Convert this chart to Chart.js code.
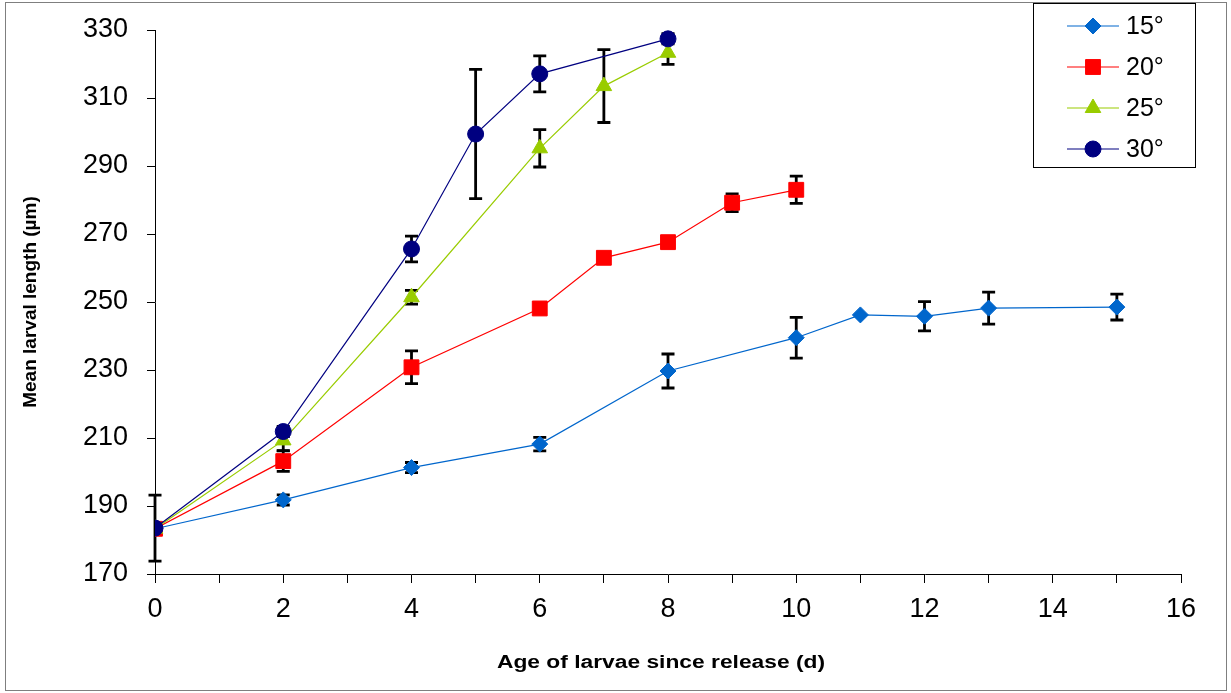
<!DOCTYPE html>
<html><head><meta charset="utf-8">
<script src="https://cdn.jsdelivr.net/npm/chart.js@4/dist/chart.umd.min.js"></script>
<style>
html,body{margin:0;padding:0;background:#fff;}
#wrap{position:relative;width:1231px;height:693px;}
#frame{position:absolute;left:5px;top:2px;width:1222px;height:689px;border:1px solid #7f7f7f;box-sizing:border-box;pointer-events:none;}
canvas{position:absolute;left:0;top:0;}
</style></head><body>
<div id="wrap"><canvas id="c" width="1231" height="693"></canvas><div id="frame"></div></div>
<script>
// ---- data ----
const days15 = [0, 2, 4, 6, 8, 10, 11, 12, 13, 15];
const len15  = [183.3, 191.8, 201.3, 208.2, 229.7, 239.5, 246.2, 245.8, 248.2, 248.5];
const err15  = [null, 1.5, 1.5, 2, 5, 6, null, 4.3, 4.7, 3.8];

const days20 = [0, 2, 4, 6, 7, 8, 9, 10];
const len20  = [183.3, 203.2, 230.8, 248.1, 263.0, 267.6, 279.2, 283.0];
const err20  = [null, 3, 4.8, 1.5, 1.5, 1.5, 2.6, 4];

const days25 = [0, 2, 4, 6, 7, 8];
const len25  = [183.3, 209.3, 251.4, 295.2, 313.5, 323.3];
const err25  = [null, 3, 2, 5.5, 10.7, 3.4];

const days30 = [0, 2, 4, 5, 6, 8];
const len30  = [183.5, 211.9, 265.6, 299.4, 317.1, 327.4];
const err30  = [9.7, 1.5, 3.8, 19, 5.3, 1.5];

const seriesNames = ['15°', '20°', '25°', '30°'];
const xTitle = 'Age of larvae since release (d)';
const yTitle = 'Mean larval length (µm)';

// ---- styles ----
const FONT = "'Liberation Sans', Arial, sans-serif";
const colors = ['#0066CC', '#FF0000', '#99CC00', '#000080'];
const styles = ['rectRot', 'rect', 'triangle', 'circle'];
const radii = [8, 10.5, 9, 8];

const allDays = [days15, days20, days25, days30];
const allLen = [len15, len20, len25, len30];
const allErr = [err15, err20, err25, err30];

const datasets = seriesNames.map((name, i) => ({
  label: name,
  data: allDays[i].map((d, j) => ({x: d, y: allLen[i][j]})),
  borderColor: colors[i],
  backgroundColor: colors[i],
  pointBackgroundColor: colors[i],
  pointBorderColor: colors[i],
  pointBorderWidth: 1,
  pointStyle: styles[i],
  pointRadius: radii[i],
  pointHoverRadius: radii[i],
  borderWidth: 1.2,
  tension: 0,
  order: 4 - i
}));

const errorBars = {
  id: 'errorBars',
  beforeDatasetsDraw(chart) {
    const ctx = chart.ctx;
    const xs = chart.scales.x, ys = chart.scales.y;
    ctx.save();
    ctx.strokeStyle = '#000';
    ctx.lineWidth = 2.8;
    allErr.forEach((errs, i) => {
      errs.forEach((e, j) => {
        if (e == null) return;
        const v = allLen[i][j];
        const x = xs.getPixelForValue(allDays[i][j]);
        const yt = ys.getPixelForValue(v + e);
        const yb = ys.getPixelForValue(v - e);
        ctx.beginPath();
        ctx.moveTo(x, yt); ctx.lineTo(x, yb);
        ctx.moveTo(x - 6.5, yt); ctx.lineTo(x + 6.5, yt);
        ctx.moveTo(x - 6.5, yb); ctx.lineTo(x + 6.5, yb);
        ctx.stroke();
      });
    });
    ctx.restore();
  }
};

const customText = {
  id: 'customText',
  afterDraw(chart) {
    const ctx = chart.ctx;
    ctx.save();
    // x axis title, horizontally stretched like the reference
    ctx.font = 'bold 18px ' + FONT;
    ctx.fillStyle = '#000';
    ctx.textAlign = 'center';
    ctx.textBaseline = 'middle';
    const w = ctx.measureText(xTitle).width;
    const sx = 328 / w;
    ctx.translate(661, 663);
    ctx.scale(sx, 1);
    ctx.fillText(xTitle, 0, 0);
    ctx.restore();

    // legend
    ctx.save();
    const bx = 1033.5, by = 3.5, bw = 162, bh = 164;
    ctx.fillStyle = '#fff';
    ctx.fillRect(bx, by, bw, bh);
    ctx.strokeStyle = '#000';
    ctx.lineWidth = 1;
    ctx.strokeRect(bx, by, bw, bh);
    const rows = [26, 67, 108, 149];
    seriesNames.forEach((name, i) => {
      const y = rows[i];
      ctx.strokeStyle = colors[i];
      ctx.lineWidth = 1.2;
      ctx.beginPath();
      ctx.moveTo(1067, y); ctx.lineTo(1119, y);
      ctx.stroke();
      ctx.fillStyle = colors[i];
      ctx.strokeStyle = colors[i];
      ctx.lineWidth = 1;
      Chart.helpers.drawPoint(ctx, {pointStyle: styles[i], radius: radii[i], rotation: 0, borderWidth: 1}, 1093, y);
      ctx.fillStyle = '#000';
      ctx.font = '25px ' + FONT;
      ctx.textBaseline = 'middle';
      ctx.textAlign = 'left';
      ctx.fillText(name, 1126, y + 1);
    });
    ctx.restore();
  }
};

new Chart(document.getElementById('c'), {
  type: 'line',
  data: {datasets},
  options: {
    responsive: false,
    animation: false,
    layout: {padding: {left: 0, right: 50, top: 30, bottom: 0}},
    plugins: {legend: {display: false}, tooltip: {enabled: false}},
    scales: {
      x: {
        type: 'linear', min: 0, max: 16,
        ticks: {stepSize: 1, autoSkip: false, maxRotation: 0, color: '#000',
          font: {family: FONT, size: 27}, padding: 10,
          callback: v => (v % 2 === 0 ? String(v) : '')},
        grid: {drawOnChartArea: false, drawTicks: true, tickLength: 9, color: '#000', lineWidth: 1},
        border: {color: '#000', width: 1},
        title: {display: false},
        afterFit(s) { s.height = 119; s.paddingLeft = 0; s.paddingRight = 0; }
      },
      y: {
        min: 170, max: 330,
        ticks: {stepSize: 20, color: '#000', font: {family: FONT, size: 27}, padding: 19},
        grid: {drawOnChartArea: false, drawTicks: true, tickLength: 8, color: '#000', lineWidth: 1},
        border: {color: '#000', width: 1},
        title: {display: true, text: yTitle, color: '#000',
          font: {family: FONT, size: 19, weight: 'bold'}, padding: {top: 19, bottom: 0}},
        afterFit(s) { s.width = 155; s.paddingTop = 0; s.paddingBottom = 0; }
      }
    }
  },
  plugins: [errorBars, customText]
});
</script>
</body></html>
